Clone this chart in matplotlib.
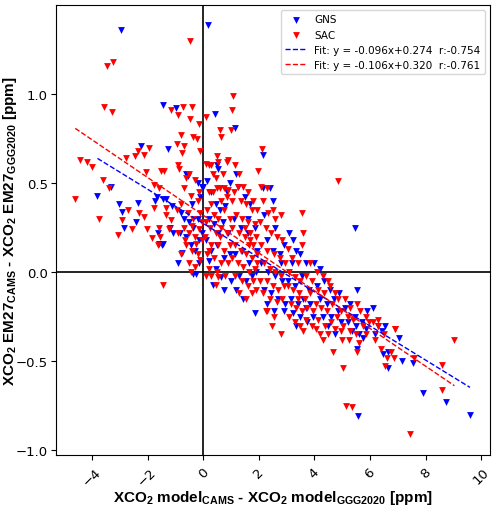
import numpy as np
import matplotlib
matplotlib.use('Agg')
import matplotlib.pyplot as plt

plt.rcParams['mathtext.fontset'] = 'custom'
plt.rcParams['mathtext.rm'] = 'Liberation Sans'
plt.rcParams['mathtext.bf'] = 'Liberation Sans:bold'
plt.rcParams['mathtext.default'] = 'bf'

# GNS points (x = model diff, y = EM27 diff)
gns_points = [
    (-2.95, 1.36), (0.16, 1.39), (-1.44, 0.94), (-0.99, 0.92), (0.42, 0.89), (1.16, 0.81),
    (-1.28, 0.69), (-2.24, 0.71), (-3.8, 0.43), (-3.31, 0.48), (-3.03, 0.38), (-2.91, 0.34),
    (-2.86, 0.25), (-2.41, 0.28), (-2.36, 0.39), (5.45, 0.25), (2.16, 0.66), (5.57, -0.81),
    (9.6, -0.80), (8.75, -0.73), (7.92, -0.68), (7.54, -0.51), (7.15, -0.50), (6.66, -0.54),
    (6.48, -0.46), (7.04, -0.37), (5.52, -0.43), (1.87, -0.23), (0.74, -0.10), (-0.24, -0.01),
    (-0.35, -0.01),
    (-1.66, 0.42), (-1.45, 0.41), (-1.34, 0.41), (-1.72, 0.40), (-1.62, 0.22), (-1.6, 0.16),
    (-1.47, 0.15), (-1.43, 0.16), (-1.13, 0.37), (-1.08, 0.22), (-1.2, 0.25),
    (-0.83, 0.22), (-0.77, 0.11), (-0.9, 0.05), (-0.6, 0.55), (-0.55, 0.54), (-0.7, 0.30),
    (-0.5, 0.28), (-0.35, 0.25), (-0.2, 0.30), (-0.1, 0.42), (-0.2, 0.50), (-0.05, 0.48),
    (-0.6, 0.20), (-0.45, 0.15), (-0.3, 0.12), (-0.15, 0.05), (-0.8, 0.33), (-0.4, 0.38),
    (-0.05, 0.22), (-0.15, 0.18),
    (0.0, 0.48), (0.15, 0.51), (0.3, 0.45), (0.45, 0.38), (0.6, 0.35), (0.8, 0.37),
    (0.2, 0.30), (0.4, 0.27), (0.55, 0.22), (0.7, 0.28), (0.9, 0.22), (0.1, 0.18),
    (0.3, 0.12), (0.5, 0.15), (0.75, 0.08), (0.95, 0.10), (0.2, 0.06), (0.45, 0.02),
    (0.65, -0.03), (0.35, -0.07), (0.85, 0.45), (0.55, 0.58), (0.5, 0.60), (0.95, 0.50),
    (1.2, 0.55), (1.25, 0.48), (1.5, 0.42), (1.7, 0.38), (1.1, 0.30), (1.35, 0.25),
    (1.6, 0.22), (1.85, 0.25), (1.15, 0.10), (1.4, 0.12), (1.65, 0.05), (1.9, 0.0),
    (1.3, -0.02), (1.55, -0.05), (1.75, -0.02), (1.2, -0.10), (1.45, -0.15), (1.0, -0.05),
    (1.6, 0.30), (1.95, 0.12),
    (2.15, 0.47), (2.4, 0.47), (2.5, 0.40), (2.2, 0.32), (2.6, 0.25), (2.3, 0.18),
    (2.5, 0.12), (2.75, 0.10), (2.9, 0.15), (2.1, 0.05), (2.35, 0.0), (2.6, -0.02),
    (2.85, -0.05), (2.2, -0.10), (2.45, -0.12), (2.7, -0.15), (2.95, -0.18), (2.55, -0.22),
    (2.9, -0.22), (2.3, -0.18), (2.8, 0.05),
    (3.1, 0.22), (3.25, 0.18), (3.35, 0.12), (3.2, 0.05), (3.5, 0.10), (3.7, 0.05),
    (3.05, -0.05), (3.3, -0.08), (3.55, -0.02), (3.8, -0.10), (3.15, -0.15), (3.4, -0.18),
    (3.6, -0.15), (3.85, -0.18), (3.25, -0.23), (3.5, -0.25), (3.75, -0.28), (3.95, -0.25),
    (3.35, -0.30), (3.7, -0.20),
    (4.0, 0.05), (4.2, 0.02), (4.1, -0.08), (4.35, -0.05), (4.55, -0.10), (4.2, -0.15),
    (4.45, -0.18), (4.7, -0.15), (4.9, -0.12), (4.3, -0.25), (4.6, -0.25), (4.85, -0.22),
    (4.5, -0.30), (4.75, -0.35), (4.95, -0.28),
    (5.1, -0.20), (5.3, -0.18), (5.55, -0.10), (5.2, -0.28), (5.45, -0.25), (5.7, -0.28),
    (5.9, -0.22), (5.35, -0.33), (5.6, -0.35), (5.85, -0.32), (5.75, -0.37), (5.5, -0.30),
    (6.1, -0.20), (6.3, -0.30), (6.55, -0.30), (6.2, -0.35), (6.45, -0.33), (6.65, -0.45),
]

# SAC points
sac_points = [
    (-0.46, 1.30), (-3.46, 1.16), (-3.25, 1.18), (-3.56, 0.93), (-3.26, 0.90), (1.08, 0.99),
    (1.05, 0.91), (-4.6, 0.41), (-4.44, 0.63), (-4.16, 0.62), (-4.0, 0.59), (-3.74, 0.30),
    (-3.6, 0.52), (-3.37, 0.47), (-3.05, 0.21), (-2.9, 0.29), (-2.77, 0.64), (-2.7, 0.35),
    (4.87, 0.51), (9.04, -0.38), (7.44, -0.91), (5.14, -0.75), (5.35, -0.76), (8.61, -0.52),
    (8.61, -0.66), (6.9, -0.32), (7.58, -0.48), (5.02, -0.54), (4.68, -0.45), (-1.43, -0.07),
    (2.13, 0.69), (1.96, 0.57), (3.56, 0.33),
    (-1.95, 0.70), (-2.12, 0.66), (-2.46, 0.65), (-2.35, 0.68), (-2.06, 0.56), (-1.51, 0.57),
    (-1.40, 0.57), (-1.78, 0.49), (-1.57, 0.47), (-1.75, 0.36), (-1.34, 0.36), (-1.34, 0.32),
    (-1.6, 0.25), (-2.02, 0.24), (-1.84, 0.19), (-1.54, 0.20), (-2.12, 0.31), (-1.23, 0.24),
    (-1.16, 0.29), (-2.56, 0.24), (-1.62, 0.15), (-2.29, 0.33),
    (-0.95, 0.72), (-0.79, 0.77), (-0.68, 0.71), (-0.77, 0.67), (-0.91, 0.88), (-1.15, 0.91),
    (-0.74, 0.93), (-0.47, 0.86), (-0.40, 0.93), (-0.35, 0.76), (-0.22, 0.75), (-0.14, 0.83),
    (-0.11, 0.68), (-0.5, 0.55), (-0.85, 0.58), (-0.9, 0.60), (-0.6, 0.53), (-0.3, 0.52),
    (-0.15, 0.45), (-0.7, 0.47), (-0.45, 0.43), (-0.2, 0.40), (-0.95, 0.35), (-0.8, 0.38),
    (-0.55, 0.33), (-0.35, 0.30), (-0.1, 0.33), (-0.9, 0.22), (-0.7, 0.25), (-0.5, 0.22),
    (-0.3, 0.20), (-0.15, 0.24), (-0.6, 0.15), (-0.4, 0.12), (-0.2, 0.10), (-0.8, 0.10),
    (-0.5, 0.05), (-0.3, 0.03), (-0.1, 0.07), (-0.45, 0.0), (-0.65, 0.18), (-0.25, 0.16),
    (-0.05, 0.18), (-0.05, 0.28), (-0.4, 0.26),
    (0.1, 0.87), (0.6, 0.80), (0.65, 0.76), (0.9, 0.63), (0.85, 0.62), (0.2, 0.60),
    (0.3, 0.60), (0.12, 0.61), (0.5, 0.65), (0.55, 0.62), (0.7, 0.55), (0.35, 0.55),
    (0.45, 0.53), (0.75, 0.47), (0.9, 0.46), (0.2, 0.45), (0.5, 0.47), (0.6, 0.47),
    (0.65, 0.40), (0.85, 0.42), (0.3, 0.38), (0.15, 0.35), (0.4, 0.32), (0.55, 0.30),
    (0.75, 0.35), (0.95, 0.30), (0.1, 0.28), (0.25, 0.25), (0.45, 0.22), (0.65, 0.25),
    (0.85, 0.22), (0.05, 0.20), (0.3, 0.15), (0.55, 0.15), (0.75, 0.12), (0.95, 0.15),
    (0.15, 0.10), (0.4, 0.08), (0.65, 0.05), (0.9, 0.05), (0.2, 0.02), (0.5, 0.0),
    (0.1, -0.02), (0.3, -0.02), (0.55, -0.03), (0.8, -0.02), (0.45, -0.07), (0.2, 0.12),
    (0.6, 0.20), (0.35, 0.45),
    (1.0, 0.80), (1.15, 0.60), (1.3, 0.55), (1.25, 0.48), (1.45, 0.48), (1.6, 0.45),
    (1.8, 0.40), (1.1, 0.45), (1.05, 0.40), (1.35, 0.40), (1.55, 0.38), (1.75, 0.35),
    (1.95, 0.35), (1.2, 0.32), (1.4, 0.30), (1.6, 0.28), (1.85, 0.27), (1.05, 0.25),
    (1.3, 0.22), (1.5, 0.20), (1.7, 0.18), (1.9, 0.20), (1.15, 0.15), (1.35, 0.12),
    (1.55, 0.10), (1.75, 0.08), (1.95, 0.10), (1.05, 0.08), (1.25, 0.05), (1.45, 0.03),
    (1.65, 0.0), (1.85, 0.02), (1.15, -0.02), (1.4, -0.05), (1.6, -0.08), (1.8, -0.05),
    (1.3, -0.12), (1.55, -0.15), (1.75, -0.12), (1.9, -0.10), (1.5, 0.25), (1.7, 0.22),
    (1.8, 0.15), (1.65, 0.15), (1.95, 0.05),
    (2.1, 0.48), (2.3, 0.47), (2.15, 0.40), (2.5, 0.35), (2.35, 0.33), (2.6, 0.30),
    (2.8, 0.32), (2.05, 0.28), (2.25, 0.25), (2.45, 0.22), (2.65, 0.20), (2.85, 0.18),
    (2.1, 0.15), (2.3, 0.12), (2.55, 0.10), (2.75, 0.08), (2.95, 0.05), (2.2, 0.05),
    (2.4, 0.02), (2.6, 0.0), (2.8, -0.02), (2.05, -0.05), (2.3, -0.05), (2.5, -0.08),
    (2.7, -0.10), (2.9, -0.08), (2.15, -0.12), (2.4, -0.15), (2.65, -0.17), (2.85, -0.15),
    (2.55, -0.25), (2.25, -0.22), (2.79, -0.35), (2.47, -0.30), (2.29, -0.22),
    (3.05, 0.13), (3.2, 0.08), (3.4, 0.05), (3.6, 0.22), (3.55, 0.15), (3.85, 0.05),
    (3.1, 0.0), (3.3, -0.03), (3.5, -0.05), (3.7, -0.02), (3.9, -0.05), (3.05, -0.08),
    (3.25, -0.10), (3.45, -0.12), (3.65, -0.15), (3.85, -0.12), (3.15, -0.18), (3.35, -0.20),
    (3.55, -0.22), (3.75, -0.20), (3.95, -0.22), (3.3, -0.28), (3.5, -0.30), (3.7, -0.27),
    (3.9, -0.30), (3.6, -0.33), (3.1, -0.25), (3.4, -0.15),
    (4.1, 0.0), (4.3, -0.02), (4.5, -0.05), (4.15, -0.10), (4.35, -0.12), (4.55, -0.08),
    (4.75, -0.12), (4.05, -0.18), (4.25, -0.20), (4.45, -0.22), (4.65, -0.18), (4.85, -0.15),
    (4.15, -0.27), (4.4, -0.30), (4.6, -0.28), (4.8, -0.25), (4.95, -0.22), (4.2, -0.35),
    (4.5, -0.35), (4.75, -0.32), (4.95, -0.33), (4.3, -0.38), (4.05, -0.32),
    (5.1, -0.15), (5.3, -0.20), (5.55, -0.18), (5.2, -0.25), (5.4, -0.27), (5.65, -0.22),
    (5.85, -0.25), (5.05, -0.30), (5.3, -0.33), (5.5, -0.35), (5.75, -0.30), (5.95, -0.28),
    (5.25, -0.38), (5.6, -0.40), (5.85, -0.35), (5.55, -0.45), (5.0, -0.38),
    (6.1, -0.28), (6.3, -0.30), (6.5, -0.35), (6.2, -0.38), (6.4, -0.43), (6.6, -0.48),
    (6.75, -0.45), (6.85, -0.48), (6.55, -0.53), (6.9, -0.32), (6.3, -0.27),
]

# fit results shown in the legend
gns_fit = (-0.096, 0.274, -0.754)
sac_fit = (-0.106, 0.320, -0.761)

gns = np.array(gns_points)
sac = np.array(sac_points)

fig, ax = plt.subplots(figsize=(5, 5.1), dpi=100)
fig.subplots_adjust(left=0.111, right=0.98, top=0.988, bottom=0.105)

ax.axhline(0, color='black', lw=1.2, zorder=1)
ax.axvline(0, color='black', lw=1.2, zorder=1)

ax.scatter(gns[:, 0], gns[:, 1], marker='v', s=24, color='blue', linewidths=0, label='GNS', zorder=2)
ax.scatter(sac[:, 0], sac[:, 1], marker='v', s=24, color='red', linewidths=0, label='SAC', zorder=2)

for data, fit, col in [(gns, gns_fit, 'blue'), (sac, sac_fit, 'red')]:
    xx = np.array([data[:, 0].min(), data[:, 0].max()])
    ax.plot(xx, fit[0] * xx + fit[1], color=col, linestyle='--', lw=1,
            label='Fit: y = {:.3f}x+{:.3f}  r:{:.3f}'.format(*fit), zorder=3)

ax.set_xlim(-5.31, 10.32)
ax.set_ylim(-1.03, 1.50)
ax.set_xticks(np.arange(-4, 11, 2))
ax.set_yticks([-1.0, -0.5, 0.0, 0.5, 1.0])
ax.tick_params(axis='x', labelrotation=45, labelsize=9.5)
ax.tick_params(axis='y', labelsize=9.5, pad=2)

lab_font = dict(family='Liberation Sans', fontsize=11, fontweight='bold')
ax.set_xlabel('XCO$_2$ model$_{CAMS}$ - XCO$_2$ model$_{GGG2020}$ [ppm]', **lab_font)
ax.set_ylabel('XCO$_2$ EM27$_{CAMS}$ - XCO$_2$ EM27$_{GGG2020}$ [ppm]', **lab_font)
ax.xaxis.set_label_coords(0.5, -0.072)
ax.yaxis.set_label_coords(-0.085, 0.5)

ax.legend(loc='upper right', fontsize=7.5)

fig.savefig('out.png', dpi=100)
